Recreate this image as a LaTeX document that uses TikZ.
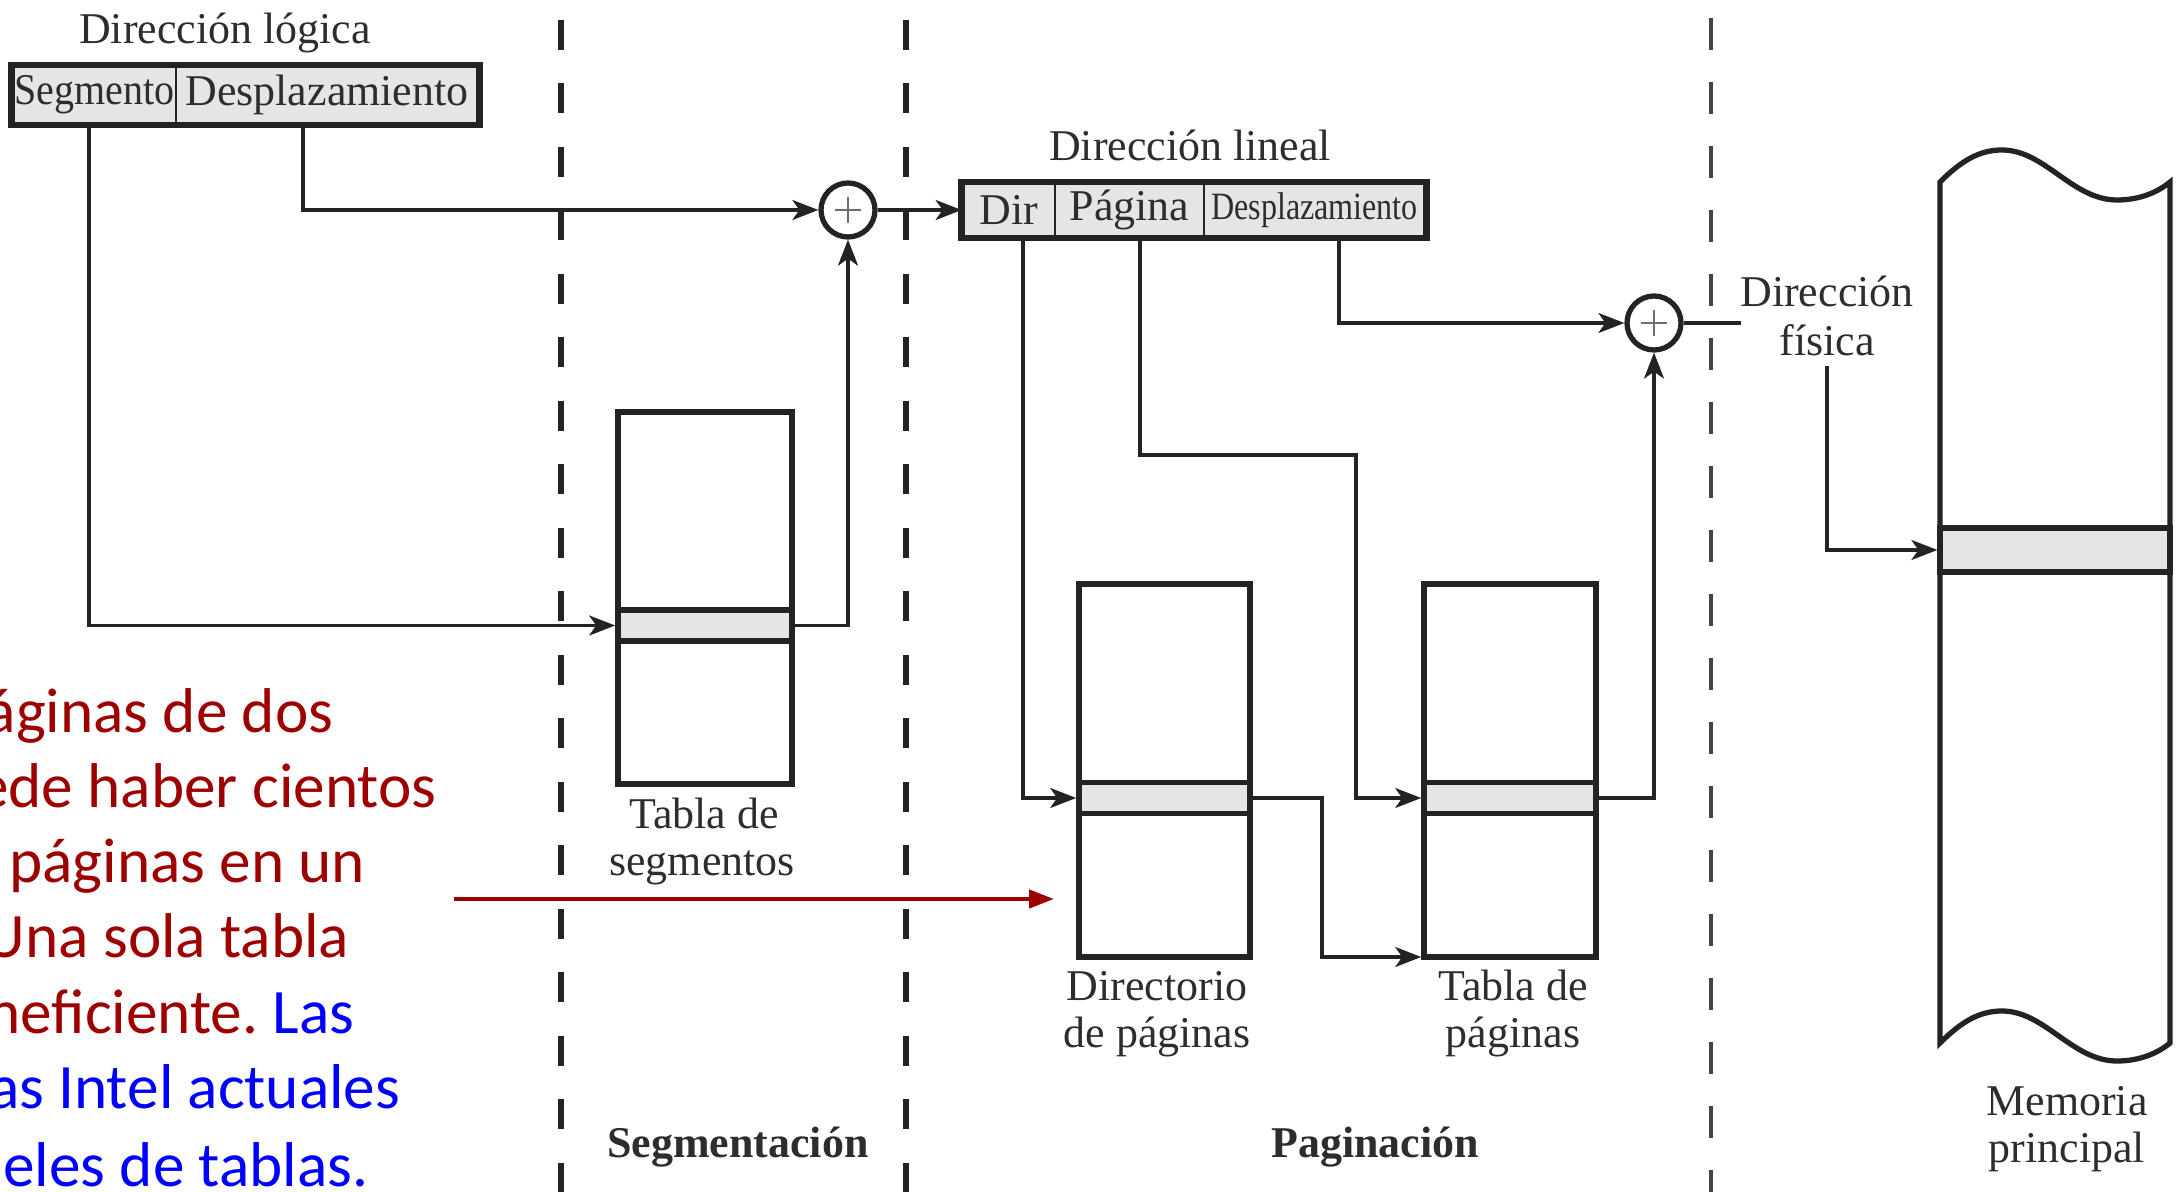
\documentclass[tikz,border=0pt]{standalone}
\usepackage{graphicx}
\usepackage{fontspec}
\setmainfont{Liberation Serif}
\newfontfamily\carlitofont{Carlito}
\usetikzlibrary{arrows.meta}
\frenchspacing
\definecolor{ink}{RGB}{35,35,35}
\definecolor{txt}{RGB}{45,45,45}
\definecolor{boxgray}{RGB}{228,229,231}
\definecolor{plusgray}{RGB}{110,110,110}
\definecolor{notered}{RGB}{158,0,0}
\definecolor{noteblue}{RGB}{0,0,255}
\tikzset{
 lbl/.style={font=\fontsize{12.5}{15}\selectfont, text=txt, inner sep=0, anchor=base},
 boldlbl/.style={lbl, font=\fontsize{12.5}{15}\selectfont\bfseries},
 cell/.style={draw=ink, line width=0.8pt, fill=boxgray, inner sep=0, font=\fontsize{12.5}{15}\selectfont, text=txt},
 outerbox/.style={draw=ink, line width=1.8pt},
 tablebox/.style={draw=ink, line width=1.6pt, inner sep=0, fill=white},
 bandbox/.style={draw=ink, line width=1.6pt, fill=boxgray, inner sep=0},
 conn/.style={draw=ink, line width=0.9pt},
 arr/.style={conn, -{Stealth[length=2.6mm,width=2mm,inset=0.7mm]}},
 sumc/.style={circle, draw=ink, line width=1.5pt, minimum size=5.4mm, inner sep=0, fill=white},
 plusline/.style={draw=plusgray, line width=0.5pt},
 septhick/.style={draw=ink, line width=1.9pt, dash pattern=on 3mm off 3.35mm},
 septhin/.style={draw=ink!85, line width=1.1pt, dash pattern=on 3.2mm off 3.2mm},
 note/.style={font=\carlitofont\fontsize{18}{21}\selectfont, inner sep=0, anchor=base east},
}
\begin{document}
\begin{tikzpicture}[x=0.1mm, y=-0.1mm]
\useasboundingbox (0,0) rectangle (2181,1192);
\begin{scope}
\clip (0,0) rectangle (2181,1192);

% separators
\draw[septhick] (561,20) -- (561,1200);
\draw[septhick] (906,20) -- (906,1200);
\draw[septhin] (1711,18) -- (1711,1200);

% logical address
\node[lbl] (dl) at (225,44) {Dirección lógica};
\node[cell, minimum width=16.3mm, minimum height=5.7mm] (seg) at (94.5,95) {\scalebox{0.91}[1]{Segmento}};
\node[cell, minimum width=30.2mm, minimum height=5.7mm] (desp) at (327,95) {Desplazamiento};
\draw[outerbox] (seg.north west) rectangle (desp.south east);

% sum 1
\node[sumc] (c1) at (848,210) {};
\draw[plusline] ([xshift=-1.3mm]c1.center) -- ([xshift=1.3mm]c1.center);
\draw[plusline] ([yshift=-1.3mm]c1.center) -- ([yshift=1.3mm]c1.center);

% segment table
\node[tablebox, minimum width=17.4mm, minimum height=37.2mm] (ts) at (705,598) {};
\node[bandbox, minimum width=17.4mm, minimum height=3.1mm] (tsb) at (705,625.5) {};
\node[lbl] (tsl1) at (704,828) {Tabla de};
\node[lbl] (tsl2) at (702,875) {segmentos};

% linear address
\node[lbl] (dlin) at (1190,161) {Dirección lineal};
\node[cell, minimum width=9.2mm, minimum height=5.3mm] (ldir) at (1009,210) {Dir};
\node[cell, minimum width=14.9mm, minimum height=5.3mm] (lpag) at (1129.5,210) {Página};
\node[cell, minimum width=22.1mm, minimum height=5.3mm, font=\fontsize{11}{13}\selectfont] (ldesp) at (1314.5,210) {\scalebox{0.83}[1]{Desplazamiento}};
\draw[outerbox] (ldir.north west) rectangle (ldesp.south east);

% page directory
\node[tablebox, minimum width=17.1mm, minimum height=37.3mm] (dp) at (1164.5,770.5) {};
\node[bandbox, minimum width=17.1mm, minimum height=3.1mm] (dpb) at (1164.5,798) {};
\node[lbl] (dpl1) at (1157,1000) {Directorio};
\node[lbl] (dpl2) at (1157,1047) {de páginas};

% page table
\node[tablebox, minimum width=17.2mm, minimum height=37.3mm] (tp) at (1510,770.5) {};
\node[bandbox, minimum width=17.2mm, minimum height=3.1mm] (tpb) at (1510,798) {};
\node[lbl] (tpl1) at (1513,1000) {Tabla de};
\node[lbl] (tpl2) at (1513,1047) {páginas};

% sum 2
\node[sumc] (c2) at (1654,323) {};
\draw[plusline] ([xshift=-1.3mm]c2.center) -- ([xshift=1.3mm]c2.center);
\draw[plusline] ([yshift=-1.3mm]c2.center) -- ([yshift=1.3mm]c2.center);
\node[lbl] (fis1) at (1827,307) {Dirección};
\node[lbl] (fis2) at (1827,356) {física};

% main memory
\draw[draw=ink, line width=1.5pt, fill=white]
  (1940,182) .. controls (1962,160) and (1980,150) .. (2002,150)
  .. controls (2045,150) and (2072,200) .. (2117,200)
  .. controls (2140,200) and (2158,192) .. (2170,182)
  -- (2170,1043)
  .. controls (2158,1053) and (2140,1061) .. (2117,1061)
  .. controls (2072,1061) and (2045,1011) .. (2002,1011)
  .. controls (1980,1011) and (1962,1021) .. (1940,1043) -- cycle;
\node[bandbox, line width=1.5pt, minimum width=23mm, minimum height=4.4mm] (memb) at (2055,550) {};
\node[lbl] (meml1) at (2067,1115) {Memoria};
\node[lbl] (meml2) at (2067,1162) {principal};

% section titles
\node[boldlbl] (tseg) at (738,1157) {Segmentación};
\node[boldlbl] (tpagi) at (1375,1157) {Paginación};

% connectors
\draw[arr] ([xshift=-0.55mm]seg.south) |- (tsb.west);
\draw[arr] ([xshift=-2.4mm]desp.south) |- (c1.west);
\draw[arr] (tsb.east) -| (c1.south);
\draw[arr] (c1.east) -- (c1.east -| ldir.west);
\draw[arr] ([xshift=1.4mm]ldir.south) |- (dpb.west);
\coordinate (pbend) at (1356,455);
\draw[arr] ([xshift=1.05mm]lpag.south) |- (pbend) |- (tpb.west);
\draw[arr] ([xshift=2.45mm]ldesp.south) |- (c2.west);
\coordinate (dbend) at (1322,957);
\draw[arr] (dpb.east) -| (dbend) -- (dbend -| tp.west);
\draw[arr] (tpb.east) -| (c2.south);
\coordinate (physend) at (1741,323);
\draw[conn] (c2.east) -- (physend);
\draw[arr] ([yshift=-0.9mm]fis2.south) |- (memb.west);

% note text (cut off at the left edge, as in the reference)
\node[note, text=notered] (n1) at (334,732) {áginas de dos};
\node[note, text=notered] (n2) at (437,807) {ede haber cientos};
\node[note, text=notered] (n3) at (366,882) {páginas en un};
\node[note, text=notered] (n4) at (350,957) {Una sola tabla};
\node[note] (n5) at (355,1033) {\textcolor{notered}{neficiente.} \textcolor{noteblue}{Las}};
\node[note, text=noteblue] (n6) at (401,1108) {as Intel actuales};
\node[note, text=noteblue] (n7) at (369,1186) {eles de tablas.};

\coordinate (ra) at (454,899);
\coordinate (rb) at (1054,899);
\draw[draw=notered, line width=1.2pt, -{Triangle[length=2.5mm,width=1.8mm]}] (ra) -- (rb);
\end{scope}
\end{tikzpicture}
\end{document}
